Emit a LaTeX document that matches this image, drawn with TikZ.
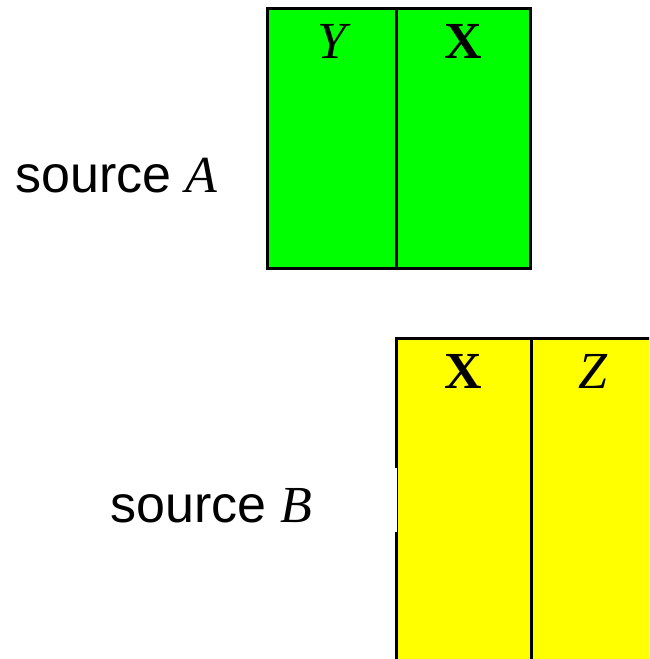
\documentclass[tikz,border=0pt]{standalone}
\usepackage{fontspec}
\setmainfont{Liberation Sans}
\newfontfamily\timesfont{Liberation Serif}
\usetikzlibrary{positioning}

\begin{document}
\begin{tikzpicture}[
x=1pt, y=-1pt,
column/.style={draw, line width=3pt, anchor=north west, minimum width=129pt, minimum height=260pt, inner sep=0pt, outer sep=0pt},
greencol/.style={column, fill={rgb,255:red,0;green,255;blue,0}},
yellowcol/.style={column, fill={rgb,255:red,255;green,255;blue,0}, minimum width=135pt, minimum height=330pt},
head/.style={font=\fontsize{52}{60}\selectfont\timesfont, inner sep=0pt, outer sep=0pt, anchor=north},
source/.style={font=\fontsize{52}{60}\selectfont, inner sep=0pt, anchor=base west}
]
\useasboundingbox (0,0) rectangle (649,659);
\clip (0,0) rectangle (649,659);

% source A
\node[greencol] (colY) at (267,8) {};
\node[greencol, minimum width=134pt, right=0pt of colY.north east, anchor=north west] (colXa) {};
\node[head, below=16pt of colY.north] (headY) {\itshape Y};
\node[head, below=16pt of colXa.north] (headXa) {\bfseries X};
\node[source] (srcA) at (15,192) {source {\timesfont\itshape A}};

% source B
\node[yellowcol] (colXb) at (396,338) {};
\node[yellowcol, minimum width=124pt, right=0pt of colXb.north east, anchor=north west] (colZ) {};
\node[head, below=16pt of colXb.north] (headXb) {\bfseries X};
\node[head, below=16pt of colZ.north] (headZ) {\itshape Z};
\node[source] (srcB) at (110,522) {source {\timesfont\itshape B}};

% gap in the left edge
\fill[white] ([xshift=-2pt]colXb.north west |- 0,468) rectangle ([xshift=1pt]colXb.north west |- 0,532);
\end{tikzpicture}
\end{document}
